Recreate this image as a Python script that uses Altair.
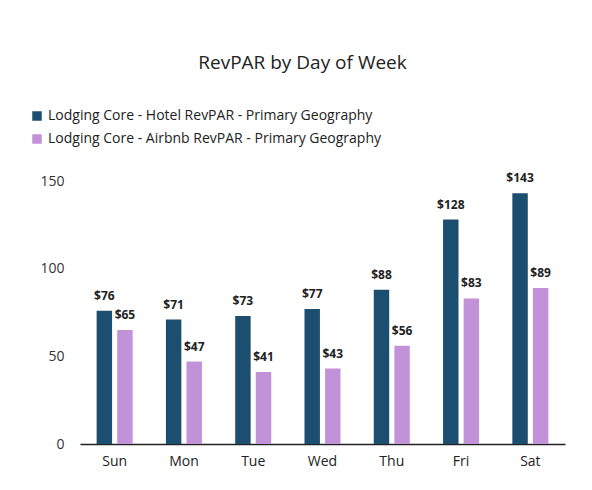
import altair as alt
import pandas as pd

days = ["Sun", "Mon", "Tue", "Wed", "Thu", "Fri", "Sat"]
hotel = [76, 71, 73, 77, 88, 128, 143]
airbnb = [65, 47, 41, 43, 56, 83, 89]
series = ["Lodging Core - Hotel RevPAR - Primary Geography",
          "Lodging Core - Airbnb RevPAR - Primary Geography"]
colors = ["#1c4e70", "#c292d8"]

rows = []
for i, d in enumerate(days):
    rows.append({"day": d, "series": series[0], "value": hotel[i], "label": f"${hotel[i]}"})
    rows.append({"day": d, "series": series[1], "value": airbnb[i], "label": f"${airbnb[i]}"})
df = pd.DataFrame(rows)

base = alt.Chart(df).encode(
    x=alt.X("day:N", sort=days, title=None,
            scale=alt.Scale(paddingInner=0.48, paddingOuter=0.24),
            axis=alt.Axis(labelAngle=0, ticks=False, domainColor="#222", domainWidth=1.5,
                          labelFontSize=14, labelColor="#222", labelPadding=10,
                          labelFont="Open Sans")),
    xOffset=alt.XOffset("series:N", sort=series, scale=alt.Scale(paddingInner=0.25)),
)

bars = base.mark_bar().encode(
    y=alt.Y("value:Q", title=None, scale=alt.Scale(domain=[0, 150], nice=False),
            axis=alt.Axis(values=[0, 50, 100, 150], grid=False, domain=False, ticks=False,
                          labelFontSize=14, labelColor="#333", labelPadding=16,
                          labelFont="Open Sans")),
    color=alt.Color("series:N", sort=series,
                    scale=alt.Scale(domain=series, range=colors),
                    legend=alt.Legend(title=None, orient="none", legendX=-50, legendY=-72,
                                      direction="vertical", symbolType="square",
                                      symbolSize=90, labelFontSize=14, labelFont="Open Sans",
                                      labelColor="#222", rowPadding=9, symbolStrokeWidth=0,
                                      labelLimit=0)),
)

labels = base.mark_text(dy=-8, fontSize=12, fontWeight="bold", font="Open Sans",
                        color="#222", baseline="bottom").encode(
    y=alt.Y("value:Q"),
    text="label:N",
)

chart = alt.layer(bars, labels).properties(
    width=485, height=263,
    title=alt.TitleParams("RevPAR by Day of Week", fontSize=19, fontWeight="normal",
                          font="Open Sans", color="#222", anchor="middle",
                          dx=-20, offset=36),
    padding={"left": 72, "top": 173, "right": 10, "bottom": 30},
    autosize=alt.AutoSizeParams(type="none"),
).configure_view(stroke=None)

chart.save("out.html", embed_options={"renderer": "svg", "actions": False})
